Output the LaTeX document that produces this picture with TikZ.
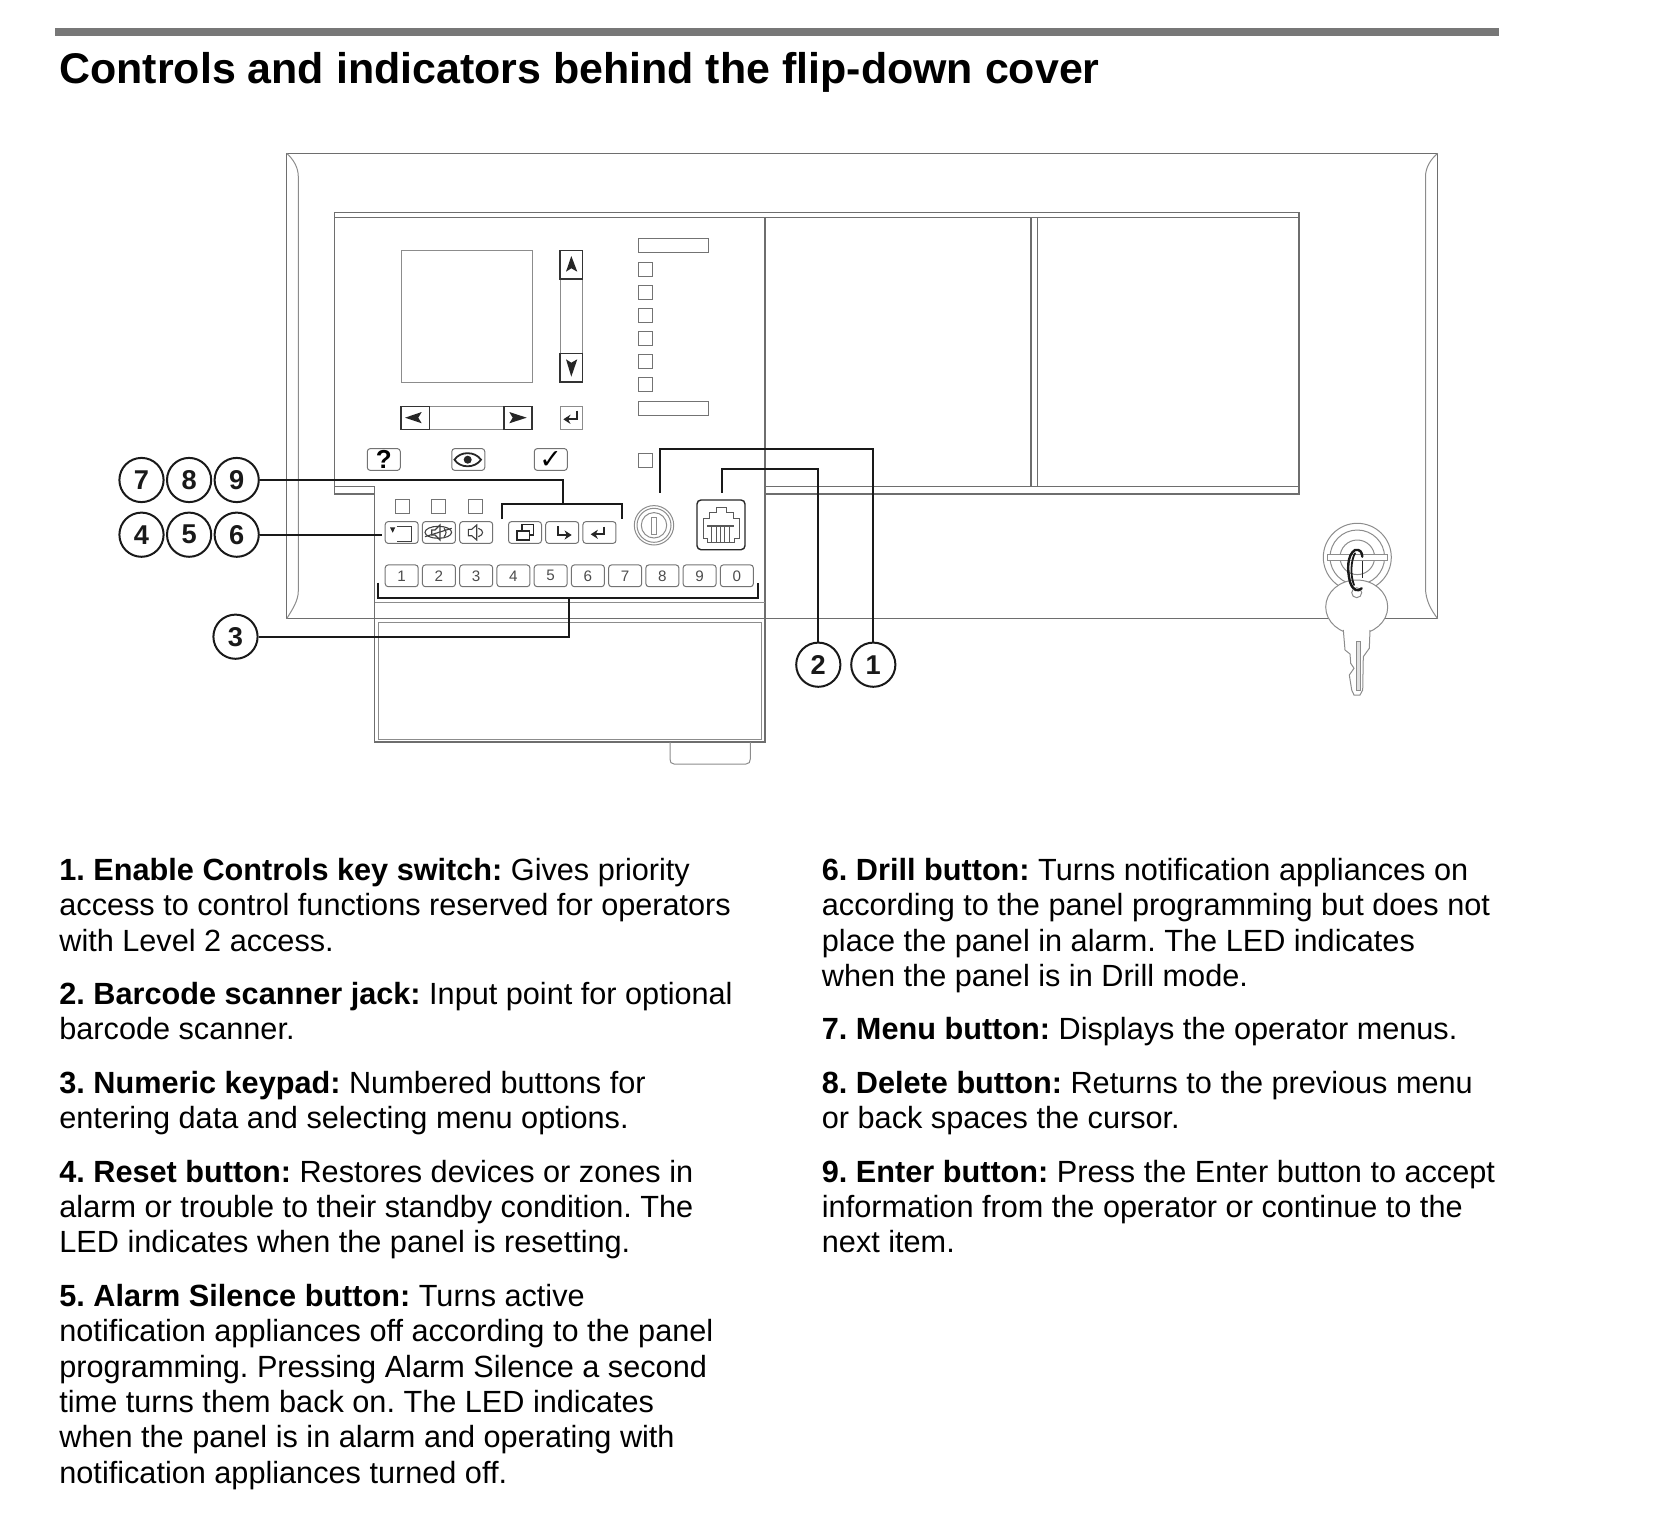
\documentclass[tikz,border=0pt]{standalone}
\usepackage{fontspec}
\setmainfont{Liberation Sans}
\newfontfamily\symfont{DejaVu Sans}
\usepackage{xcolor}
\usetikzlibrary{arrows.meta,positioning,shapes.geometric}
\definecolor{rulecol}{RGB}{119,119,119}
\definecolor{framecol}{RGB}{110,110,110}
\definecolor{leadcol}{RGB}{25,25,25}
\def\bodyfont{\frenchspacing\fontsize{15.33}{17.7}\selectfont}

\begin{document}
\begin{tikzpicture}[
   x=0.5pt, y=-0.5pt, >=Stealth, node distance=1.62pt,
   para/.style={anchor=north west, inner sep=0pt, align=left, font=\bodyfont},
   callout/.style={circle, draw=leadcol, line width=1pt, minimum size=22.1pt, inner sep=0pt,
                   font=\fontsize{13.6}{14}\selectfont\bfseries, text=leadcol},
   lead/.style={line width=1pt, draw=leadcol},
   wall/.style={line width=0.55pt, draw=framecol},
   soft/.style={line width=0.5pt, draw=black!45},
   led/.style={draw=black!55, line width=0.5pt, minimum size=7pt, inner sep=0pt},
   legend/.style={draw=black!55, line width=0.5pt, minimum width=35.2pt, minimum height=7pt, inner sep=0pt},
   keybtn/.style={draw=black!55, line width=0.5pt, rounded corners=1.5pt, minimum width=16.5pt,
                  minimum height=10.9pt, inner sep=0pt, text=black!70,
                  font=\fontsize{7.6}{8}\selectfont},
   softbtn/.style={keybtn, text=black},
   navbtn/.style={draw=black!80, line width=0.6pt, inner sep=0pt},
   icon/.style={line width=0.55pt, draw=black!75},
   dart/.style={fill=black!85, draw=none},
   bentarrow/.style={line width=0.9pt, draw=black!85, -{Stealth[length=3.6pt,width=4.6pt]}},
]
\useasboundingbox (0,0) rectangle (1660,1520);
% heading
\fill[rulecol] (54.7,28.3) rectangle (1499,35.7);
\node[anchor=base west, inner sep=0pt, font=\fontsize{21.47}{24}\selectfont\bfseries] (title) at (59,83.3)
  {Controls and indicators behind the flip-down cover};
% cabinet
\draw[wall, line width=0.7pt] (286.7,153.3) rectangle (1437.7,618.7);
\draw[soft] (286.7,153.3) .. controls (293,159) and (298.3,167) .. (298.3,176.7) -- (298.3,591)
   .. controls (298.3,601) and (292,610) .. (286.7,618.7);
\draw[soft] (1437.7,153.3) .. controls (1431,159) and (1425.5,167) .. (1425.5,176.7) -- (1425.5,588)
   .. controls (1425.5,600) and (1431,610) .. (1437.7,618.7);
% door opening
\draw[wall] (374.7,494) -- (334.3,494) -- (334.3,212.7) -- (1299,212.7) -- (1299,494) -- (765,494);
\draw[wall] (334.3,217.7) -- (1299,217.7);
\draw[wall] (334.3,486.7) -- (374.7,486.7);
\draw[wall] (765,486.7) -- (1299,486.7);
\draw[wall] (1031,217.7) -- (1031,486.7);
\draw[wall] (1037.5,217.7) -- (1037.5,486.7);
% flip-down part
\draw[wall] (374.7,486.7) -- (374.7,742) -- (765,742) -- (765,217.7);
\draw[soft] (374.7,602.7) -- (765,602.7);
\draw[soft] (378,622.7) rectangle (761,739);
\draw[soft] (670,742) -- (670,759) .. controls (670,762) and (671,764) .. (674,764) -- (746,764)
   .. controls (749,764) and (750.3,762) .. (750.3,759) -- (750.3,742);
% display and navigation
\draw[soft] (401,250.7) rectangle (532,382);
\draw[soft] (560,250.7) rectangle (582.7,382);
\draw[navbtn] (560,250.7) rectangle (582.7,279);
\draw[navbtn] (560,353.7) rectangle (582.7,382);
\fill[dart] (571.3,256) -- (577.3,271.7) -- (571.3,268.3) -- (566,271.7) -- cycle;
\fill[dart] (571.3,376.7) -- (577.3,359.3) -- (571.3,362.7) -- (566,359.3) -- cycle;
\draw[soft] (401,406.7) rectangle (532,429.3);
\draw[navbtn] (401,406.7) rectangle (429.7,429.3);
\draw[navbtn] (504,406.7) rectangle (532,429.3);
\fill[dart] (405,417.7) -- (421.7,412) -- (418.3,417.7) -- (421.7,423.3) -- cycle;
\fill[dart] (526.7,417.7) -- (509.3,412) -- (512.7,417.7) -- (509.3,423.3) -- cycle;
\draw[soft] (560,406.7) rectangle (582.7,429.3);
\draw[bentarrow] (576.7,410.7) -- (576.7,419.3) -- (563.3,419.3);
% status legends and LEDs
\node[legend] (top legend) at (673.2,245.7) {};
\node[led] (led a) at (645.2,269.3) {};
\node[led, below=4.05pt of led a] (led b) {};
\node[led, below=4.05pt of led b] (led c) {};
\node[led, below=4.05pt of led c] (led d) {};
\node[led, below=4.05pt of led d] (led e) {};
\node[led, below=4.05pt of led e] (led f) {};
\node[legend] (low legend) at (673.2,408.5) {};
\node[led] (led g) at (645.2,460.3) {};
% upper soft buttons
\node[softbtn] (help) at (383.8,459.5) {\fontsize{13}{13}\selectfont\bfseries ?};
\node[softbtn] (view) at (468.3,459.5) {};
\node[softbtn] (check) at (550.8,459.5) {\fontsize{13.5}{13.5}\selectfont\symfont ✓};
\draw[line width=0.9pt, black!85] (454.5,459.7) .. controls (460,451) and (475,451) .. (481,459.7)
   .. controls (475,468.5) and (460,468.5) .. cycle;
\fill[black!85] (467.7,459.7) circle[radius=4];
% mode LEDs and buttons
\node[led] (led reset) at (402,506.5) {};
\node[led] (led silence) at (438.7,506.5) {};
\node[led] (led drill) at (475,506.5) {};
\node[softbtn] (reset) at (401.7,532.5) {};
\node[softbtn, right=of reset] (silence) {};
\node[softbtn, right=of silence] (drill) {};
\node[softbtn] (menu) at (525,532.5) {};
\node[softbtn, right=of menu] (delete) {};
\node[softbtn, right=of delete] (enter) {};
\fill[black!85] (390,527.3) -- (395.3,527.3) -- (392.7,532.7) -- cycle;
\draw[icon] (396.7,526.7) -- (411.7,526.7) -- (411.7,541.7) -- (396.7,541.7);
\draw[icon] (438.3,532.3) ellipse[x radius=13.3, y radius=6];
\draw[icon] (431.7,530) -- (435,530) -- (440,525) -- (440,540) -- (435,535) -- (431.7,535) -- cycle;
\draw[icon] (425,536.7) -- (451.7,528.3);
\draw[icon] (444,528.3) .. controls (446.7,531) and (446.7,534) .. (444,536.7);
\draw[icon] (468.3,529.3) -- (471.7,529.3) -- (476.7,525) -- (476.7,540) -- (471.7,535.7) -- (468.3,535.7) -- cycle;
\draw[icon] (478.3,528.3) .. controls (484,530) and (484,535) .. (478.3,536.7);
\draw[line width=0.8pt, black!85] (521.7,530.7) -- (521.7,524.3) -- (533.3,524.3) -- (533.3,535) -- (529.3,535);
\draw[line width=0.8pt, black!85, fill=white] (516.7,530.7) rectangle (529.3,540);
\draw[bentarrow] (558.3,526) -- (558.3,535) -- (571.7,535);
\draw[bentarrow] (604.3,526.7) -- (604.3,534.3) -- (590.7,534.3);
% keypad
\node[keybtn] (key1) at (401.7,575.8) {1};
\node[keybtn, right=of key1] (key2) {2};
\node[keybtn, right=of key2] (key3) {3};
\node[keybtn, right=of key3] (key4) {4};
\node[keybtn, right=of key4] (key5) {5};
\node[keybtn, right=of key5] (key6) {6};
\node[keybtn, right=of key6] (key7) {7};
\node[keybtn, right=of key7] (key8) {8};
\node[keybtn, right=of key8] (key9) {9};
\node[keybtn, right=of key9] (key0) {0};
% key switch and jack
\draw[soft] (654,525.3) circle[radius=19.7];
\draw[soft] (654,525.3) circle[radius=17];
\draw[soft] (654,525.3) circle[radius=12.7];
\draw[soft] (651.7,517.3) rectangle (656.7,534);
\draw[line width=0.7pt, black!85, rounded corners=2pt] (697,500) rectangle (745,549.7);
\draw[soft, black!65] (703.3,518.3) -- (709,518.3) -- (709,512.7) -- (716,512.7) -- (716,507.3)
   -- (726.7,507.3) -- (726.7,512.7) -- (733.3,512.7) -- (733.3,518.3) -- (739,518.3) -- (739,538.3)
   -- (734,538.3) -- (734,542.7) -- (707.3,542.7) -- (707.3,538.3) -- (703.3,538.3) -- cycle;
\draw[line width=0.7pt, black!65] (707.3,526) -- (734,526);
\draw[soft, black!65] (711.7,526) -- (711.7,542.7) (716.1,526) -- (716.1,542.7) (720.5,526) -- (720.5,542.7)
   (724.9,526) -- (724.9,542.7) (729.3,526) -- (729.3,542.7);
% key on the right
\draw[soft] (1357.3,557.3) circle[radius=34];
\draw[soft] (1357.3,557.3) circle[radius=27.3];
\draw[soft] (1357.3,557.3) circle[radius=17.3];
\draw[line width=0.6pt, black!85] (1362.7,558) -- (1362.7,578.3);
\draw[soft, fill=white] (1327.3,554) rectangle (1387.3,560);
\draw[soft, fill=white] (1356.7,607) ellipse[x radius=31, y radius=27];
\draw[soft, fill=white] (1343.3,630) -- (1345,650) -- (1350,654) -- (1350.7,663.3) -- (1354,668.3) -- (1349.3,675)
   -- (1351.7,690) -- (1354,695) -- (1360,695) -- (1362.7,690) -- (1363.3,656.7) -- (1369.3,648.3) -- (1370,630);
\draw[soft, fill=black!12] (1356,641.7) rectangle (1360,690);
\draw[soft] (1356.7,592.7) circle[radius=5];
\draw[line width=1.2pt, black!90, line cap=round] (1361.7,588.3) .. controls (1358,592) and (1353,591) .. (1350,582)
   .. controls (1347,570) and (1347,555) .. (1355,550) .. controls (1360,549) and (1362,552) .. (1362.3,556.7);
\draw[line width=0.9pt, black!90, line cap=round] (1355,553.3) .. controls (1351,560) and (1350,575) .. (1354,585);
% callouts
\node[callout] (c7) at (141.5,480) {7};
\node[callout, right=0.7pt of c7] (c8) {8};
\node[callout, right=0.7pt of c8] (c9) {9};
\node[callout] (c4) at (141.5,534.7) {4};
\node[callout, right=0.7pt of c4] (c5) {5};
\node[callout, right=0.7pt of c5] (c6) {6};
\node[callout] (c3) at (235.5,636.7) {3};
\node[callout] (c2) at (818.3,664.7) {2};
\node[callout] (c1) at (873.3,664.7) {1};
% leader ends
\coordinate (group top) at (562.7,504.3);
\coordinate (group left) at (502.3,519);
\coordinate (group right) at (622.3,519);
\coordinate (reset end) at (382.3,534.7);
\coordinate (pad left) at (378.3,582.7);
\coordinate (pad right) at (758,582.7);
\coordinate (pad mid) at (569.3,597.7);
\coordinate (switch end) at (659.7,493.3);
\coordinate (switch top) at (873.3,449.3);
\coordinate (jack end) at (722,493.3);
\coordinate (jack top) at (818.3,468.7);
% leaders
\draw[lead] (c9) -| (group top);
\draw[lead] (group left) |- (group top) -| (group right);
\draw[lead] (c6) -- (reset end);
\draw[lead] (pad left) |- (pad mid) -| (pad right);
\draw[lead] (c3) -| (pad mid);
\draw[lead] (c1) -- (switch top) -| (switch end);
\draw[lead] (c2) -- (jack top) -| (jack end);
% left column
\node[para] (p1) at (59,855.2)
  {\strut\textbf{1. Enable Controls key switch:} Gives priority\\
   access to control functions reserved for operators\\
   with Level 2 access.\strut};
\node[para, below=8.6pt of p1.south west, anchor=north west] (p2)
  {\strut\textbf{2. Barcode scanner jack:} Input point for optional\\
   barcode scanner.\strut};
\node[para, below=8.6pt of p2.south west, anchor=north west] (p3)
  {\strut\textbf{3. Numeric keypad:} Numbered buttons for\\
   entering data and selecting menu options.\strut};
\node[para, below=8.6pt of p3.south west, anchor=north west] (p4)
  {\strut\textbf{4. Reset button:} Restores devices or zones in\\
   alarm or trouble to their standby condition. The\\
   LED indicates when the panel is resetting.\strut};
\node[para, below=8.6pt of p4.south west, anchor=north west] (p5)
  {\strut\textbf{5. Alarm Silence button:} Turns active\\
   notification appliances off according to the panel\\
   programming. Pressing Alarm Silence a second\\
   time turns them back on. The LED indicates\\
   when the panel is in alarm and operating with\\
   notification appliances turned off.\strut};
% right column
\node[para] (p6) at (821.5,855.2)
  {\strut\textbf{6. Drill button:} Turns notification appliances on\\
   according to the panel programming but does not\\
   place the panel in alarm. The LED indicates\\
   when the panel is in Drill mode.\strut};
\node[para, below=8.6pt of p6.south west, anchor=north west] (p7)
  {\strut\textbf{7. Menu button:} Displays the operator menus.\strut};
\node[para, below=8.6pt of p7.south west, anchor=north west] (p8)
  {\strut\textbf{8. Delete button:} Returns to the previous menu\\
   or back spaces the cursor.\strut};
\node[para, below=8.6pt of p8.south west, anchor=north west] (p9)
  {\strut\textbf{9. Enter button:} Press the Enter button to accept\\
   information from the operator or continue to the\\
   next item.\strut};
\end{tikzpicture}
\end{document}
